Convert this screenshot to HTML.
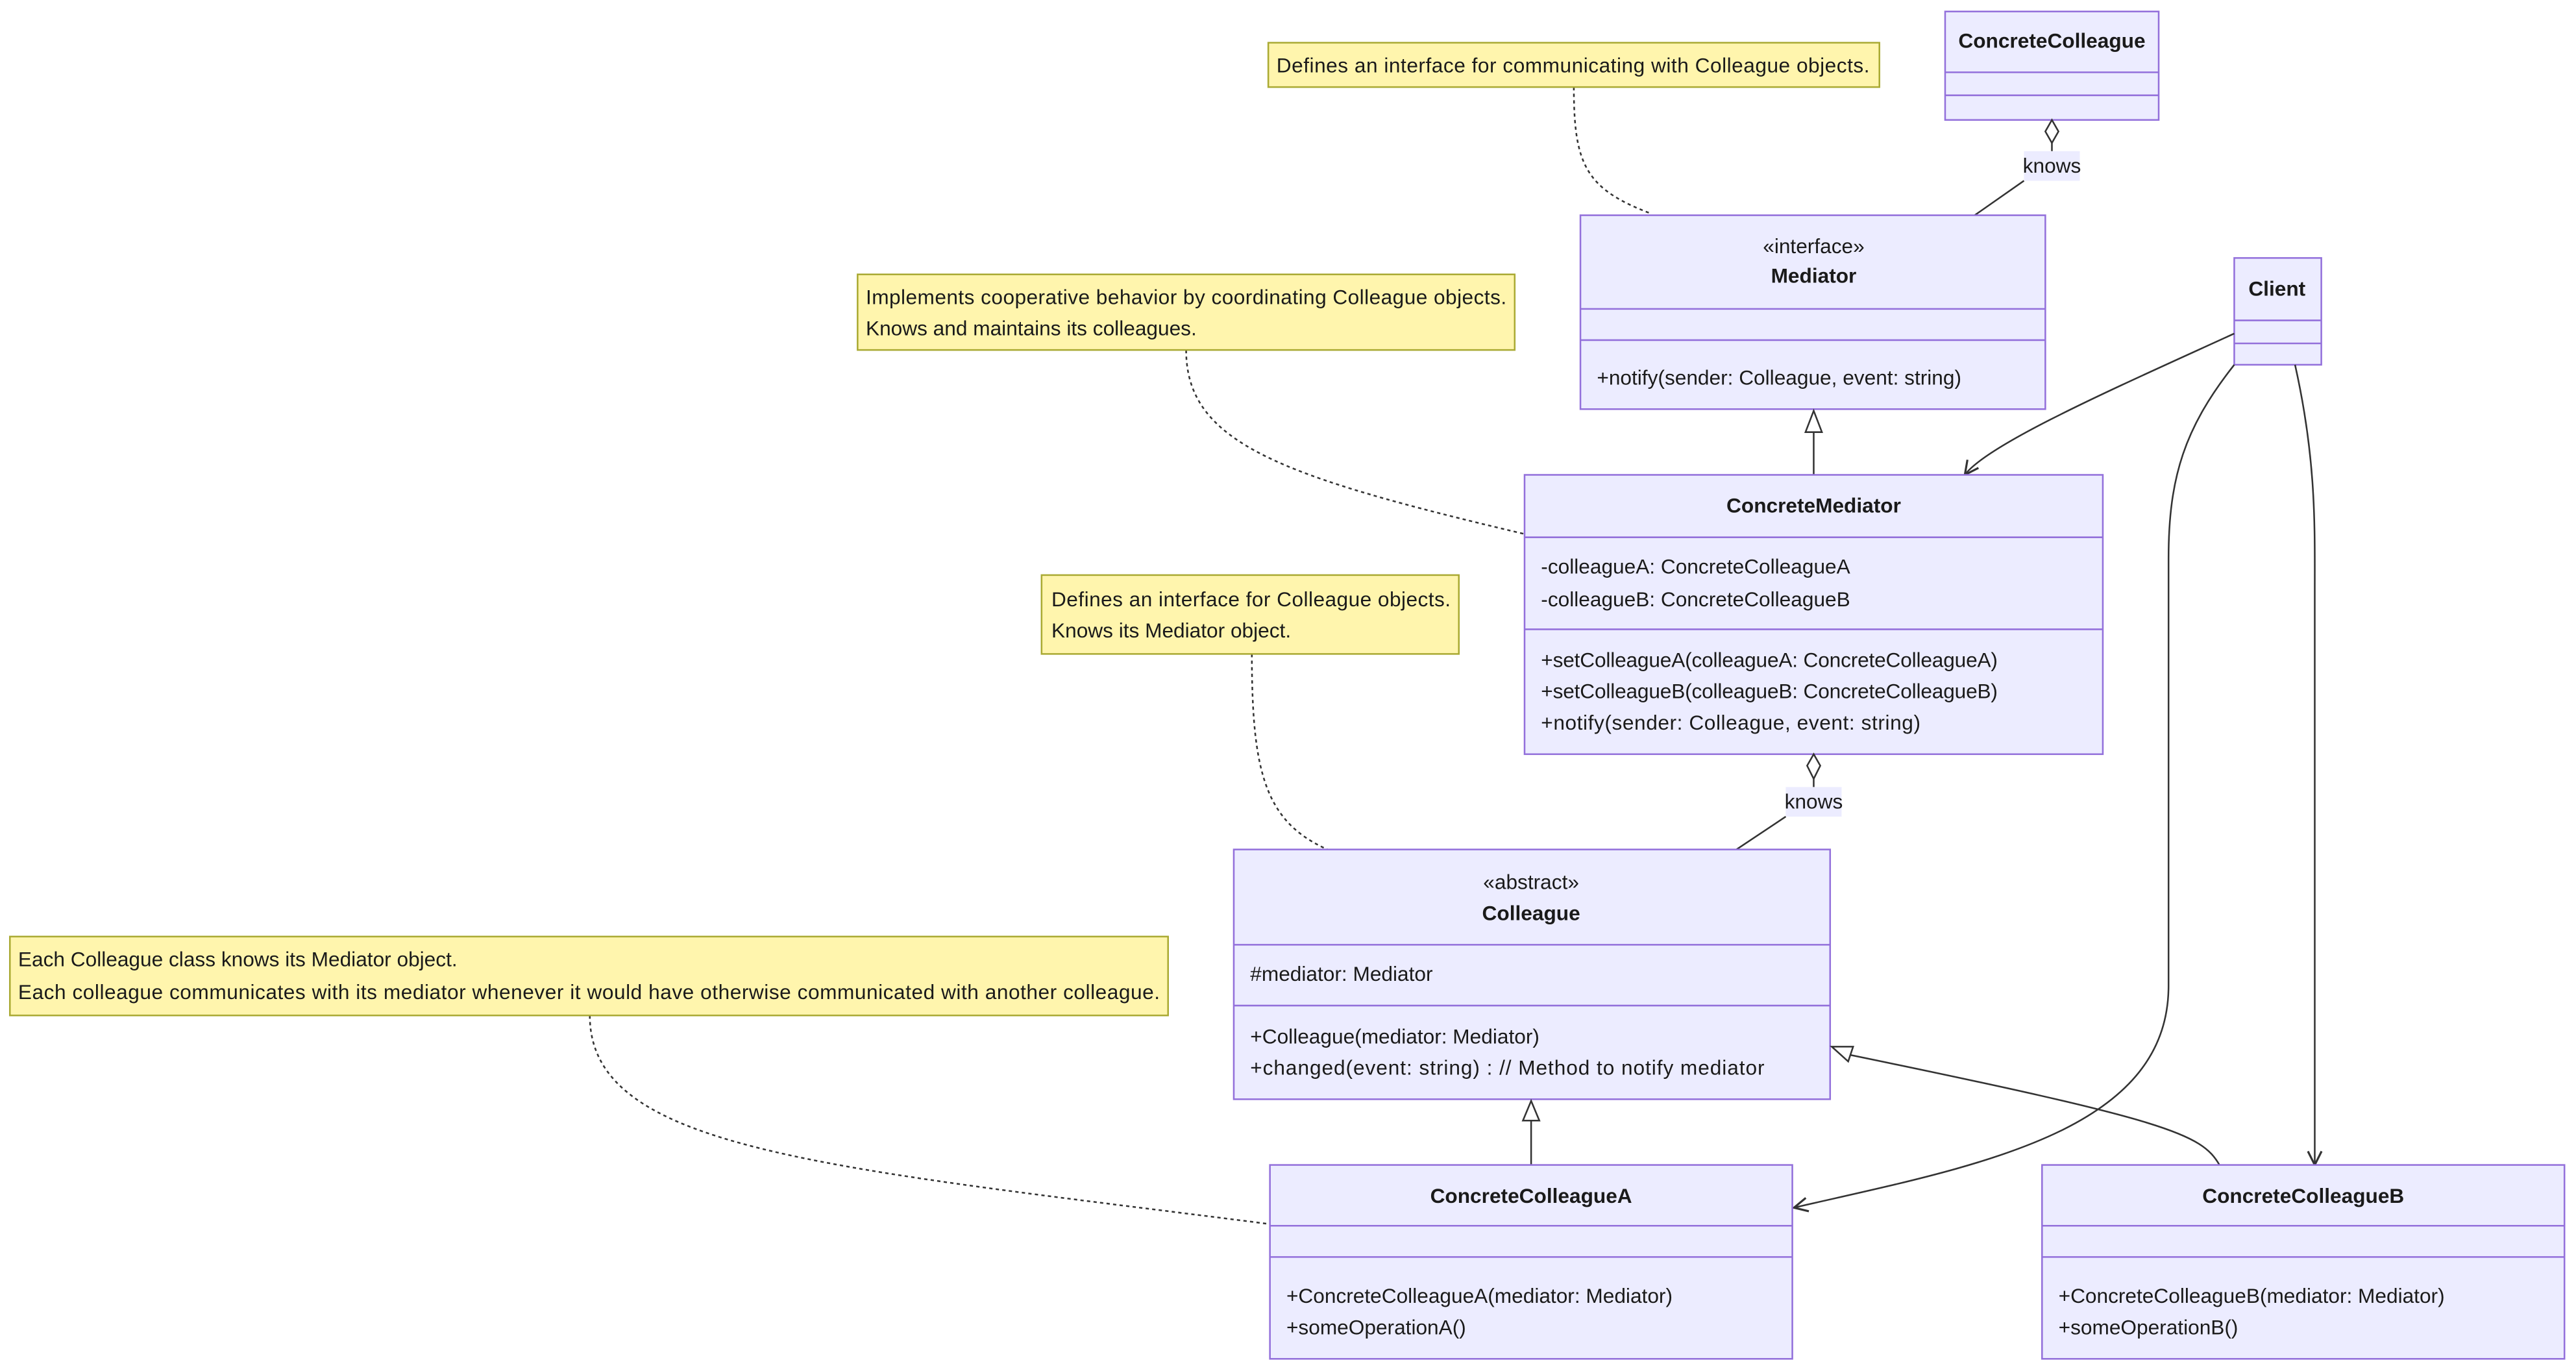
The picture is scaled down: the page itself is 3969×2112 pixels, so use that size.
<!DOCTYPE html>
<html><head><meta charset="utf-8"><style>
html,body{margin:0;padding:0;background:#fff;}
svg{display:block;}
text{font-family:"Liberation Sans",sans-serif;font-size:12.5px;fill:#1a1a1a;}
.b{font-weight:bold;}
.c{fill:#ECECFF;stroke:#9370DB;stroke-width:1;}
.n{fill:#fff5ad;stroke:#aaaa33;stroke-width:1;}
.l{stroke:#9370DB;stroke-width:1;}
.e{fill:none;stroke:#333;stroke-width:1;}
.d{fill:none;stroke:#333;stroke-width:1;stroke-dasharray:2,2;}
</style></head><body>
<svg width="3969" height="2112" viewBox="0 0 1568 834.4" xmlns="http://www.w3.org/2000/svg">
<defs>
<marker id="arr" viewBox="0 0 12 12" refX="11" refY="6" markerWidth="10" markerHeight="10" orient="auto" markerUnits="userSpaceOnUse">
<path d="M1,1 L11,6 L1,11" fill="none" stroke="#333" stroke-width="1.5"/></marker>
</defs>

<!-- dotted note connectors -->
<path class="d" d="M958,53 C958,100 965,115 1005,130"/>
<path class="d" d="M722,213 C722,270 780,290 928,325"/>
<path class="d" d="M762,398 C762,470 770,500 808,517"/>
<path class="d" d="M359,618 C359,700 500,710 773,745"/>

<!-- Notes -->
<rect class="n" x="772" y="26" width="372" height="27"/>
<text x="777" y="44" textLength="361">Defines an interface for communicating with Colleague objects.</text>
<rect class="n" x="522" y="167" width="400" height="46"/>
<text x="527" y="185" textLength="390">Implements cooperative behavior by coordinating Colleague objects.</text>
<text x="527" y="204">Knows and maintains its colleagues.</text>
<rect class="n" x="634" y="350" width="254" height="48"/>
<text x="640" y="369" textLength="243">Defines an interface for Colleague objects.</text>
<text x="640" y="388">Knows its Mediator object.</text>
<rect class="n" x="6" y="570" width="705" height="48"/>
<text x="11" y="588">Each Colleague class knows its Mediator object.</text>
<text x="11" y="608" textLength="695">Each colleague communicates with its mediator whenever it would have otherwise communicated with another colleague.</text>

<!-- ConcreteColleague -->
<rect class="c" x="1184" y="7" width="130" height="66"/>
<line class="l" x1="1184" y1="44" x2="1314" y2="44"/><line class="l" x1="1184" y1="58" x2="1314" y2="58"/>
<text class="b" x="1249" y="29" text-anchor="middle">ConcreteColleague</text>
<path d="M1249,73 L1253,80 L1249,87 L1245,80 Z" fill="#fff" stroke="#333"/>
<line class="e" x1="1249" y1="87" x2="1249" y2="92"/>
<rect x="1232" y="92" width="34" height="18" fill="#ECECFF"/>
<text x="1249" y="105" text-anchor="middle">knows</text>
<line class="e" x1="1232" y1="110" x2="1202" y2="131"/>

<!-- Mediator -->
<rect class="c" x="962" y="131" width="283" height="118"/>
<line class="l" x1="962" y1="188" x2="1245" y2="188"/><line class="l" x1="962" y1="207" x2="1245" y2="207"/>
<text x="1104" y="154" text-anchor="middle">«interface»</text>
<text class="b" x="1104" y="172" text-anchor="middle">Mediator</text>
<text x="972" y="234">+notify(sender: Colleague, event: string)</text>

<!-- inheritance Mediator <- ConcreteMediator -->
<line class="e" x1="1104" y1="263" x2="1104" y2="289"/>
<path d="M1104,250 L1109,263 L1099,263 Z" fill="#fff" stroke="#333"/>

<!-- Client -->
<rect class="c" x="1360" y="157" width="53" height="65"/>
<line class="l" x1="1360" y1="195" x2="1413" y2="195"/><line class="l" x1="1360" y1="209" x2="1413" y2="209"/>
<text class="b" x="1386" y="180" text-anchor="middle">Client</text>

<!-- Client arrows -->
<path class="e" d="M1360,203 C1290,235 1210,270 1196,289" marker-end="url(#arr)"/>
<path class="e" d="M1360,222 C1330,260 1320,290 1320,340 L1320,600 C1320,690 1200,710 1092,735" marker-end="url(#arr)"/>
<path class="e" d="M1397,222 C1410,280 1409,320 1409,360 L1409,709" marker-end="url(#arr)"/>

<!-- ConcreteMediator -->
<rect class="c" x="928" y="289" width="352" height="170"/>
<line class="l" x1="928" y1="327" x2="1280" y2="327"/><line class="l" x1="928" y1="383" x2="1280" y2="383"/>
<text class="b" x="1104" y="312" text-anchor="middle">ConcreteMediator</text>
<text x="938" y="349">-colleagueA: ConcreteColleagueA</text>
<text x="938" y="369">-colleagueB: ConcreteColleagueB</text>
<text x="938" y="406" textLength="278">+setColleagueA(colleagueA: ConcreteColleagueA)</text>
<text x="938" y="425" textLength="278">+setColleagueB(colleagueB: ConcreteColleagueB)</text>
<text x="938" y="444" textLength="231">+notify(sender: Colleague, event: string)</text>
<path d="M1104,459 L1108,466 L1104,474 L1100,466 Z" fill="#fff" stroke="#333"/>
<line class="e" x1="1104" y1="474" x2="1104" y2="479"/>
<rect x="1087" y="479" width="34" height="18" fill="#ECECFF"/>
<text x="1104" y="492" text-anchor="middle">knows</text>
<line class="e" x1="1087" y1="497" x2="1057" y2="517"/>

<!-- Colleague -->
<rect class="c" x="751" y="517" width="363" height="152"/>
<line class="l" x1="751" y1="575" x2="1114" y2="575"/><line class="l" x1="751" y1="612" x2="1114" y2="612"/>
<text x="932" y="541" text-anchor="middle">«abstract»</text>
<text class="b" x="932" y="560" text-anchor="middle">Colleague</text>
<text x="761" y="597">#mediator: Mediator</text>
<text x="761" y="635">+Colleague(mediator: Mediator)</text>
<text x="761" y="654" textLength="313">+changed(event: string) : // Method to notify mediator</text>

<!-- inheritance A -->
<line class="e" x1="932" y1="682" x2="932" y2="709"/>
<path d="M932,670 L937,682 L927,682 Z" fill="#fff" stroke="#333"/>
<!-- inheritance B -->
<path class="e" d="M1351,709 C1340,690 1320,682 1126,642"/>
<path d="M1115,637 L1128,637 L1125,646 Z" fill="#fff" stroke="#333"/>

<!-- ConcreteColleagueA -->
<rect class="c" x="773" y="709" width="318" height="118"/>
<line class="l" x1="773" y1="746" x2="1091" y2="746"/><line class="l" x1="773" y1="765" x2="1091" y2="765"/>
<text class="b" x="932" y="732" text-anchor="middle">ConcreteColleagueA</text>
<text x="783" y="793">+ConcreteColleagueA(mediator: Mediator)</text>
<text x="783" y="812">+someOperationA()</text>

<!-- ConcreteColleagueB -->
<rect class="c" x="1243" y="709" width="318" height="118"/>
<line class="l" x1="1243" y1="746" x2="1561" y2="746"/><line class="l" x1="1243" y1="765" x2="1561" y2="765"/>
<text class="b" x="1402" y="732" text-anchor="middle">ConcreteColleagueB</text>
<text x="1253" y="793">+ConcreteColleagueB(mediator: Mediator)</text>
<text x="1253" y="812">+someOperationB()</text>
</svg>
</body></html>
